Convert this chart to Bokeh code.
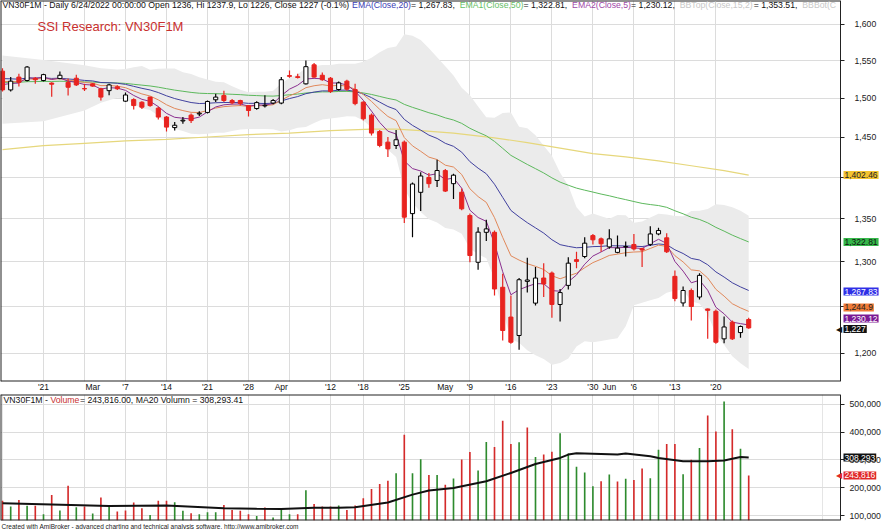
from bokeh.plotting import figure
from bokeh.models import Range1d, FixedTicker, Label, NumeralTickFormatter, ColumnDataSource, Title, Grid
from bokeh.layouts import column
from bokeh.embed import file_html
from bokeh.resources import INLINE

FONT = "Liberation Sans"

# ---------------- data (trading days 14 Feb 2022 .. 24 Jun 2022) ----------------
opens = [1536, 1511, 1528, 1523.5, 1526.5, 1523.5, 1520, 1526, 1521, 1526.5,
         1512.8, 1519, 1512.5, 1510, 1515, 1496.2, 1498.2, 1494.8, 1501.5, 1487,
         1475.5, 1462, 1470.5, 1478, 1479.5, 1481.5, 1498, 1503.5, 1497, 1497,
         1490.4, 1486.6, 1490, 1493.7, 1493.7, 1530, 1528.5, 1519, 1544.5, 1530.5,
         1526.5, 1511.5, 1522.6, 1511.5, 1494.8, 1478, 1457, 1443.5, 1439.3, 1443.5,
         1356, 1381.5, 1399.6, 1395.9, 1408, 1392, 1381.6, 1353.8, 1299.5, 1334,
         1334, 1271.4, 1238.7, 1218.9, 1278, 1253.9, 1281.7, 1287.3, 1252.4, 1273.5,
         1302.5, 1306.1, 1330.2, 1326.4, 1317.1, 1310.8, 1317, 1319.9, 1315, 1320,
         1332.1, 1327.6, 1283.6, 1254.1, 1267.8, 1260.6, 1247.5, 1245, 1215.3, 1233.2,
         1222, 1236]
highs = [1540, 1528, 1532.5, 1543, 1528, 1532.5, 1521, 1535.5, 1526, 1531,
         1519, 1520, 1514, 1519, 1517, 1507.5, 1500, 1496, 1502, 1489,
         1477, 1469, 1475.5, 1480, 1483, 1497, 1506, 1510, 1499, 1498,
         1491, 1496, 1504, 1499, 1528, 1537, 1532.5, 1550.4, 1547, 1534,
         1528, 1522, 1524.5, 1519, 1496, 1480, 1459, 1450, 1459, 1445.6,
         1393.5, 1406, 1405, 1421.4, 1410, 1404, 1386, 1356, 1339.9, 1348.7,
         1336, 1286.5, 1262.4, 1281.7, 1304.6, 1294, 1298.5, 1289, 1269.6, 1305.3,
         1311.5, 1328.3, 1332.1, 1328, 1337.5, 1330.2, 1323.4, 1332.1, 1316, 1341.1,
         1339.3, 1333, 1290.2, 1272.3, 1270, 1287, 1248, 1247, 1239.3, 1235,
         1229.6, 1237.9]
lows = [1509, 1509, 1515.5, 1522, 1519, 1522, 1502, 1525, 1503.5, 1516,
        1509.5, 1515, 1497, 1504, 1511, 1495, 1485.3, 1486, 1489, 1472.4,
        1457, 1458.3, 1467, 1468, 1477, 1480, 1495, 1495, 1492, 1490.4,
        1476.3, 1485, 1488, 1492, 1492, 1527, 1526, 1518, 1527, 1523,
        1507, 1510, 1510, 1491, 1471, 1452, 1437, 1425, 1435, 1345,
        1328.3, 1359, 1387, 1388, 1382, 1373.6, 1360, 1299.5, 1291, 1324,
        1262.4, 1213.6, 1210, 1203.8, 1265.5, 1251.3, 1260.6, 1237.9, 1233.9, 1269,
        1292.7, 1304, 1319.9, 1311.5, 1315, 1309.7, 1306.1, 1313, 1294, 1318,
        1330.5, 1310, 1256, 1250.2, 1235, 1258, 1215.3, 1210, 1210.6, 1214,
        1216.5, 1226]
closes = [1511, 1522.6, 1521, 1541.5, 1524.5, 1531.3, 1518.5, 1530.5, 1514.5, 1517.6,
          1512.3, 1516, 1501.5, 1517.6, 1512.5, 1504.3, 1490.4, 1488.3, 1490.4, 1475.5,
          1462.6, 1465, 1471.5, 1471, 1480.5, 1495.7, 1501.5, 1497, 1494, 1493,
          1484, 1494.3, 1490.8, 1497, 1524.5, 1529, 1527.5, 1542, 1528, 1524.5,
          1509, 1520.3, 1512, 1493, 1473.3, 1455, 1439.3, 1435, 1446.5, 1351.8,
          1391.6, 1401.4, 1392, 1408.1, 1383, 1402.4, 1361.7, 1307.2, 1334.2, 1338,
          1269.5, 1224.2, 1211.7, 1279.8, 1279.5, 1281.7, 1275.1, 1252.4, 1265.5, 1298.5,
          1300.5, 1321.4, 1325.3, 1320.7, 1326.4, 1315.7, 1317.5, 1314.8, 1313.5, 1332.1,
          1336.1, 1311.5, 1258.9, 1267.8, 1250.2, 1284.7, 1246, 1211.7, 1228, 1215.3,
          1228.5, 1227]

ema5 = [1518, 1519.5, 1520, 1527.2, 1526.3, 1528, 1524.8, 1526.7, 1522.6, 1521,
        1518.1, 1517.4, 1512.1, 1513.9, 1513.4, 1510.4, 1503.7, 1498.6, 1495.9, 1489.1,
        1480.3, 1475.2, 1474, 1473, 1475.5, 1482.2, 1488.6, 1491.4, 1492.3, 1492.5,
        1489.7, 1491.2, 1491.1, 1493, 1503.5, 1512, 1517.2, 1525.5, 1526.3, 1525.7,
        1520.1, 1520.2, 1517.5, 1509.3, 1497.3, 1483.2, 1468.6, 1457.4, 1453.8, 1419.9,
        1410.5, 1407.5, 1402.3, 1404.2, 1397.1, 1398.9, 1386.5, 1360.1, 1351.4, 1346.9,
        1321.1, 1288.8, 1263.1, 1268.7, 1272.3, 1275.4, 1275.3, 1267.7, 1267, 1277.5,
        1285.2, 1297.3, 1306.6, 1311.3, 1316.3, 1316.1, 1316.6, 1316, 1315.2, 1320.8,
        1325.9, 1321.1, 1300.4, 1289.5, 1276.4, 1279.2, 1268.1, 1249.3, 1242.2, 1233.2,
        1231.6, 1230.12]
ema10 = [1522, 1522.1, 1521.9, 1525.5, 1525.3, 1526.4, 1525, 1526, 1523.9, 1522.7,
         1520.8, 1520, 1516.6, 1516.8, 1516, 1513.9, 1509.6, 1505.7, 1502.9, 1497.9,
         1491.5, 1486.7, 1483.9, 1481.6, 1481.4, 1484, 1487.2, 1489, 1489.9, 1490.4,
         1489.3, 1490.2, 1490.3, 1491.5, 1497.5, 1503.2, 1507.6, 1513.9, 1516.5, 1517.9,
         1516.3, 1517, 1516.1, 1511.9, 1504.9, 1495.8, 1485.5, 1476.3, 1470.9, 1449.3,
         1438.8, 1432, 1424.7, 1421.7, 1414.7, 1412.4, 1403.2, 1385.8, 1376.4, 1369.4,
         1351.2, 1328.1, 1306.9, 1302, 1297.9, 1294.9, 1291.3, 1284.3, 1280.9, 1284.1,
         1287.1, 1293.3, 1299.1, 1303, 1307.3, 1308.8, 1310.4, 1311.2, 1311.6, 1315.3,
         1319.1, 1317.7, 1307, 1299.9, 1290.9, 1289.8, 1281.8, 1269.1, 1261.6, 1253.2,
         1248.7, 1244.9]
ema20 = [1526, 1525.7, 1525.2, 1526.8, 1526.6, 1527, 1526.2, 1526.6, 1525.5, 1524.7,
         1523.6, 1522.9, 1520.8, 1520.5, 1519.8, 1518.3, 1515.7, 1513.1, 1510.9, 1507.5,
         1503.2, 1499.6, 1496.9, 1494.4, 1493.1, 1493.4, 1494.1, 1494.4, 1494.4, 1494.3,
         1493.3, 1493.4, 1493.1, 1493.5, 1496.5, 1499.6, 1502.2, 1506, 1508.1, 1509.7,
         1509.6, 1510.6, 1510.7, 1509, 1505.6, 1500.8, 1494.9, 1489.2, 1485.2, 1472.5,
         1464.8, 1458.8, 1452.4, 1448.2, 1442, 1438.2, 1430.9, 1419.1, 1411, 1404.1,
         1391.3, 1375.4, 1359.8, 1352.2, 1345.3, 1339.2, 1333.1, 1325.4, 1319.7, 1317.7,
         1316.1, 1316.6, 1317.4, 1317.7, 1318.5, 1318.3, 1318.2, 1317.9, 1317.5, 1318.9,
         1320.5, 1319.6, 1313.8, 1309.5, 1303.9, 1302.1, 1296.7, 1288.6, 1282.8, 1276.4,
         1271.8, 1267.83]
ema50 = [1521, 1521.1, 1521.1, 1521.9, 1522, 1522.3, 1522.2, 1522.5, 1522.2, 1522,
         1521.6, 1521.4, 1520.6, 1520.5, 1520.2, 1519.6, 1518.4, 1517.3, 1516.2, 1514.6,
         1512.6, 1510.7, 1509.2, 1507.7, 1506.6, 1506.2, 1506, 1505.7, 1505.2, 1504.7,
         1503.9, 1503.5, 1503, 1502.8, 1503.6, 1504.6, 1505.5, 1506.9, 1507.8, 1508.4,
         1508.4, 1508.9, 1509, 1508.4, 1507, 1505, 1502.4, 1499.8, 1497.7, 1492,
         1488.1, 1484.7, 1481.1, 1478.2, 1474.5, 1471.7, 1467.4, 1461.1, 1456.1, 1451.5,
         1444.4, 1435.7, 1426.9, 1421.2, 1415.6, 1410.4, 1405.1, 1399.1, 1393.9, 1390.1,
         1386.6, 1384.1, 1381.8, 1379.4, 1377.3, 1374.9, 1372.7, 1370.4, 1368.2, 1366.8,
         1365.6, 1363.5, 1359.4, 1355.8, 1351.7, 1349.1, 1345.1, 1339.8, 1335.4, 1330.7,
         1326.7, 1322.81]

long_idx = [0, 5, 10, 15, 20, 25, 30, 35, 40, 45, 48, 51, 55, 60, 64, 68, 72, 76, 80, 84, 88, 91]
long_val = [1434, 1439, 1442, 1445, 1447, 1450, 1453, 1455, 1458, 1460, 1460, 1458, 1455,
            1449, 1443, 1436, 1429, 1425, 1420, 1414, 1408, 1402.46]

bb_idx = [0, 5, 10, 12, 14, 15, 16, 17, 18, 19, 20, 21, 22, 23, 24, 25, 26, 27, 28, 29,
          30, 31, 32, 33, 34, 35, 36, 37, 38, 39, 40, 41, 42, 43, 44, 45, 46, 47, 48, 49,
          50, 51, 52, 53, 54, 55, 56, 57, 58, 59, 60, 61, 62, 63, 64, 65, 66, 67, 68, 69,
          70, 71, 72, 73, 74, 75, 76, 77, 78, 79, 80, 81, 82, 83, 84, 85, 86, 87, 88, 89,
          90, 91]
bb_top = [1557, 1551, 1544, 1540, 1538.3, 1538.9, 1541.3, 1542.8, 1538.0, 1539.1,
          1539.4, 1539.6, 1534.4, 1532.0, 1527.7, 1524.9, 1521.7, 1521.0, 1515.7, 1511.2,
          1507.8, 1508.4, 1508.7, 1509.8, 1519.4, 1526.7, 1531.7, 1540.3, 1542.5, 1544.1,
          1544.4, 1545.8, 1546.1, 1546.1, 1548.7, 1554.0, 1561.5, 1567.3, 1569.6, 1586.2,
          1584.4, 1578.4, 1567.0, 1554.9, 1542.5, 1530.0, 1513.7, 1504.0, 1489.1, 1475.4,
          1474.6, 1480.9, 1481.3, 1463.2, 1461.2, 1452.1, 1438.9, 1426.4, 1405.4, 1389.7,
          1363.5, 1352.5, 1356.0, 1352.8, 1349.8, 1354.5, 1354.1, 1345.1, 1346.8, 1351.3,
          1355.9, 1355.1, 1353.3, 1352.8, 1359.1, 1359.3, 1361.4, 1367.1, 1366.3, 1363.6,
          1359.3, 1353.51]
bb_bot = [1467, 1470, 1484, 1494, 1500.7, 1499.2, 1492.6, 1486.7, 1484.7, 1477.1,
          1467.6, 1460.3, 1457.6, 1454.2, 1453.6, 1454.1, 1455.4, 1455.5, 1457.7, 1459.5,
          1460.2, 1460.1, 1460.2, 1460.0, 1457.0, 1458.5, 1461.8, 1462.6, 1468.0, 1472.3,
          1473.8, 1474.9, 1476.6, 1476.4, 1471.2, 1462.0, 1447.2, 1433.9, 1424.9, 1385.3,
          1368.8, 1357.9, 1349.3, 1345.5, 1339.1, 1337.3, 1332.4, 1315.3, 1308.6, 1304.2,
          1280.3, 1245.4, 1215.1, 1211.1, 1203.3, 1197.9, 1194.2, 1188.0, 1190.0, 1194.5,
          1207.1, 1212.8, 1211.7, 1213.0, 1214.5, 1216.0, 1228.8, 1251.6, 1254.3, 1257.1,
          1259.5, 1265.2, 1267.8, 1268.6, 1255.8, 1253.6, 1241.4, 1220.6, 1209.1, 1196.9,
          1189.6, 1183.8]

# volume in thousands of contracts
volume = [153, 132, 156, 135, 135, 105, 174, 118, 207, 130,
          132, 107, 165, 132, 114, 118, 147, 126, 102, 153,
          153, 148, 117, 108, 105, 112, 112, 138, 120, 117,
          105, 98, 129, 93, 122, 105, 105, 191, 141, 132,
          132, 136, 120, 136, 162, 195, 213, 225, 252, 390,
          252, 302, 246, 246, 211, 233, 301, 328, 262, 364,
          346, 441, 357, 363, 416, 310, 319, 329, 396, 323,
          275, 255, 205, 223, 247, 222, 232, 228, 269, 234,
          336, 357, 357, 248, 300, 343, 459, 402, 510, 410,
          340, 243.816]
ma20v_idx = [0, 6, 13, 20, 27, 31, 34, 38, 41, 43, 47, 50, 52, 55, 59, 62, 65, 68, 69, 70,
             72, 75, 76, 79, 80, 83, 86, 88, 90, 91]
ma20v_val = [144, 140, 134, 136, 126, 124, 123, 128, 128, 130, 147, 175, 190, 199, 223, 253,
             285, 307, 319, 324, 322, 319, 323, 313, 307, 295, 295, 298, 310, 308.293]

tick_idx = [5, 11, 15, 20, 25, 30, 34, 40, 44, 49, 54, 57, 62, 67, 72, 74, 77, 82, 87]
tick_lab = ["'21", "Mar", "'7", "'14", "'21", "'28", "Apr", "'12", "'18", "'25", "May",
            "'9", "'16", "'23", "'30", "Jun", "'6", "'13", "'20"]
grid_idx = [5, 10, 15, 20, 25, 30, 35, 40, 44, 49, 57, 62, 67, 72, 77, 82, 87]
price_ticks = [1200, 1250, 1300, 1350, 1400, 1450, 1500, 1550, 1600]
vol_ticks = [100000, 200000, 300000, 400000, 500000]

# layout constants (pixels -> index units: 8.2 px per bar, first bar at px 2)
X0, X_AXIS, X1 = -0.2439, 102.195, 107.439
P_LO, P_HI = 1170.8, 1633.9
V_LO, V_HI = 82100, 534900
EDGE = "#222222"
GRIDC = "#dcdcdc"

n = len(closes)
xs = list(range(n))
up = [c >= o for o, c in zip(opens, closes)]
src = ColumnDataSource(dict(x=xs, h=highs, l=lows,
                            top=[max(a, b) for a, b in zip(opens, closes)],
                            bot=[min(a, b) for a, b in zip(opens, closes)],
                            fill=["#ffffff" if u else "#e8231f" for u in up],
                            line=["#000000" if u else "#e8231f" for u in up]))


def add_text(fig, x, y, text, color, size="8.7px", **kw):
    fig.add_layout(Label(x=x, y=y, x_units="screen", y_units="data", text=text,
                         text_color=color, text_font=FONT, text_font_size=size,
                         text_baseline="middle", text_align="left", **kw))


def style_right_axis(ax, ticker, standoff):
    ax.ticker = ticker
    ax.formatter = NumeralTickFormatter(format="0,0")
    ax.fixed_location = X_AXIS
    ax.minor_tick_line_color = None
    ax.major_tick_out = 4
    ax.major_tick_in = 0
    ax.major_tick_line_color = EDGE
    ax.major_label_standoff = standoff
    ax.axis_line_color = EDGE
    ax.major_label_text_font = FONT
    ax.major_label_text_font_size = "8.7px"
    ax.major_label_text_color = "#222222"


def frame_border(fig, lo, hi):
    fig.segment(x0=[X0, X0, X0], y0=[lo, hi, lo], x1=[X_AXIS, X_AXIS, X0], y1=[lo, hi, hi],
                line_color=EDGE, line_width=2)


# ---------------- price panel ----------------
p = figure(frame_width=883, frame_height=381, x_range=Range1d(X0, X1),
           y_range=Range1d(P_LO, P_HI), y_axis_type="log", y_axis_location="right",
           output_backend="svg", toolbar_location=None,
           min_border_left=0, min_border_top=0, min_border_bottom=0, min_border_right=0,
           background_fill_color="white", border_fill_color="white", outline_line_color=None)

p.varea(x=bb_idx, y1=bb_bot, y2=bb_top, fill_color="#ebebeb", fill_alpha=1.0)
p.line(long_idx, long_val, line_color="#e6d77c", line_width=1.2)
p.line(xs, ema50, line_color="#5cb85c", line_width=1)
p.line(xs, ema20, line_color="#40409e", line_width=1)
p.line(xs, ema10, line_color="#e0885a", line_width=1)
p.line(xs, ema5, line_color="#8a2f8f", line_width=1)
p.segment(x0="x", y0="h", x1="x", y1="l", line_color="line", line_width=1.2, source=src)
p.vbar(x="x", width=0.5, top="top", bottom="bot", fill_color="fill", line_color="line",
       line_width=1, source=src)
p.quad(left=X_AXIS, right=X1 + 1, bottom=P_LO * 0.9, top=P_HI * 1.1, fill_color="white", line_color=None)
frame_border(p, P_LO, P_HI)

yt = FixedTicker(ticks=price_ticks)
style_right_axis(p.yaxis[0], yt, 10)
p.yaxis.major_label_overrides = {1250: "", 1400: ""}
p.ygrid.ticker = yt
p.ygrid.grid_line_color = GRIDC
p.xgrid.ticker = FixedTicker(ticks=grid_idx)
p.xgrid.grid_line_color = GRIDC

p.xaxis.ticker = FixedTicker(ticks=tick_idx)
p.xaxis.major_label_overrides = {i: t for i, t in zip(tick_idx, tick_lab)}
p.xaxis.major_label_text_align = "left"
p.xaxis.major_tick_line_color = None
p.xaxis.major_tick_out = 0
p.xaxis.major_tick_in = 0
p.xaxis.minor_tick_line_color = None
p.xaxis.axis_line_color = None
p.xaxis.major_label_standoff = 0
p.xaxis.major_label_text_font = FONT
p.xaxis.major_label_text_font_size = "8.5px"
p.xaxis.major_label_text_color = "#111111"

ytitle = 1626.8
segs = [(2, "VN30F1M - Daily 6/24/2022 00:00:00 Open 1236, Hi 1237.9, Lo 1226, Close 1227 (-0.1%) ", "#111111"),
        (351.6, "EMA(Close,20)", "#3d3db5"),
        (410.6, " = 1,267.83, ", "#111111"),
        (459.2, "EMA1(Close,50)", "#66c066"),
        (523.0, " = 1,322.81, ", "#111111"),
        (571.6, "EMA2(Close,5)", "#a048a8"),
        (630.6, " = 1,230.12, ", "#111111"),
        (679.2, "BBTop(Close,15,2)", "#c8c8c8"),
        (753.2, " = 1,353.51, ", "#111111"),
        (801.8, "BBBot(C", "#c8c8c8")]
for x, t, c in segs:
    add_text(p, x, ytitle, t, c)

add_text(p, 37, 1597.0, "SSI Research: VN30F1M", "#c8302e", size="13px")

# last-value boxes on the price axis (placed where the reference shows them)
boxes = [(1402.46, "1,402.46", "#f4c430", "#222222"),
         (1322.81, "1,322.81", "#35b84a", "#111111"),
         (1266.7, "1,267.83", "#2f2fe6", "#ffffff"),
         (1249.1, "1,244.9", "#f07a36", "#222222"),
         (1237.1, "1,230.12", "#7a1a94", "#ffffff"),
         (1225.8, "1,227", "#111111", "#ffffff")]
for v, t, bg, fg in boxes:
    add_text(p, 843, v, t, fg, size="8.5px", background_fill_color=bg, padding=1)
add_text(p, 835, 1225.8, "\u25c0", "#111111", size="8px")

# ---------------- volume panel ----------------
vcol = ["#2e8b2e" if closes[i] >= (closes[i - 1] if i > 0 else opens[i]) else "#d42a2a"
        for i in range(n)]
vsrc = ColumnDataSource(dict(x=xs, v=[v * 1000 for v in volume], col=vcol))

p2 = figure(frame_width=883, frame_height=126, x_range=p.x_range,
            y_range=Range1d(V_LO, V_HI), y_axis_location="right", x_axis_location=None,
            output_backend="svg", toolbar_location=None,
            min_border_left=0, min_border_top=0, min_border_bottom=0, min_border_right=0,
            background_fill_color="white", border_fill_color="white", outline_line_color=None)
vt = FixedTicker(ticks=vol_ticks)
style_right_axis(p2.yaxis[0], vt, 5)
p2.ygrid.ticker = vt
p2.ygrid.grid_line_color = GRIDC
p2.add_layout(Grid(dimension=0, ticker=FixedTicker(ticks=grid_idx), grid_line_color=GRIDC))

p2.vbar(x="x", width=0.2, top="v", bottom=0, fill_color="col", line_color=None, source=vsrc)
p2.line(ma20v_idx, [v * 1000 for v in ma20v_val], line_color="#111111", line_width=2)
p2.quad(left=X_AXIS, right=X1 + 1, bottom=0, top=V_HI * 1.1, fill_color="white", line_color=None)
frame_border(p2, V_LO, V_HI)

yv = 515000
add_text(p2, 3, yv, "VN30F1M - ", "#111111")
add_text(p2, 49.9, yv, "Volume", "#c83030")
add_text(p2, 79.4, yv, " = 243,816.00, MA20 Volumn = 308,293.41", "#111111")
add_text(p2, 843, 308293, "308,293", "#ffffff", size="8.5px", background_fill_color="#111111", padding=1)
add_text(p2, 843, 243816, "243,816", "#ffffff", size="8.5px", background_fill_color="#e02828", padding=1)
add_text(p2, 835, 243816, "\u25c0", "#e02828", size="8px")

p2.add_layout(Title(text="Created with AmiBroker - advanced charting and technical analysis software. http://www.amibroker.com",
                    text_font=FONT, text_font_size="6.5px", text_font_style="normal",
                    text_color="#222222", align="left", standoff=0, offset=1), "below")

layout = column(p, p2, spacing=0)
open("out.html", "w").write(file_html(layout, INLINE))
